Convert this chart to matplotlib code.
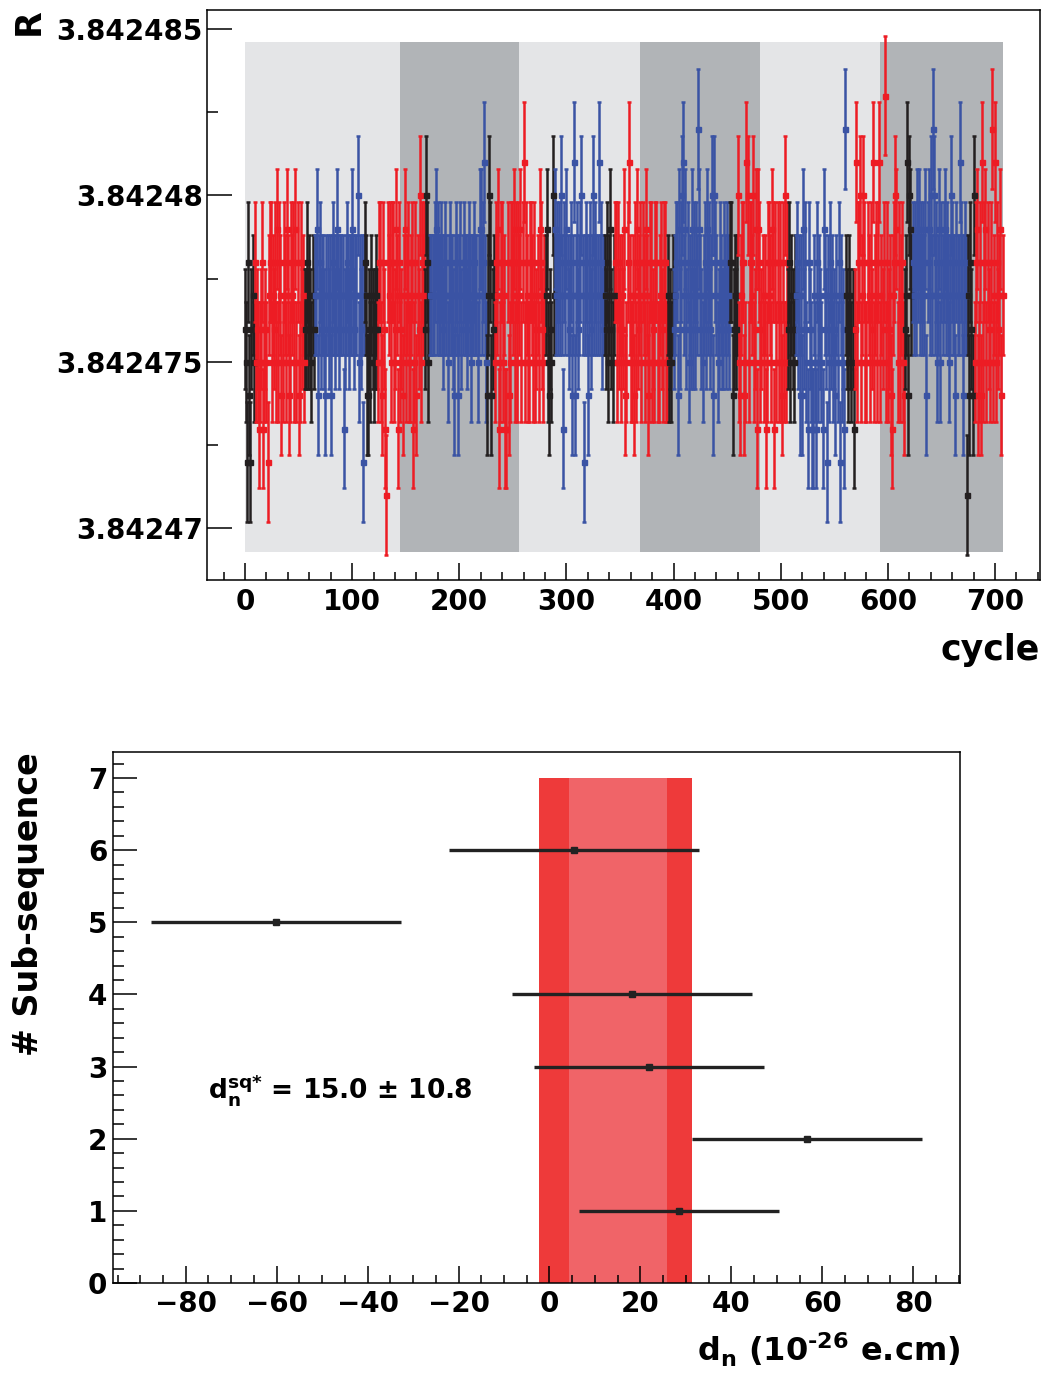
import numpy as np
import matplotlib
matplotlib.use('Agg')
import matplotlib.pyplot as plt
from matplotlib.ticker import FixedLocator, MultipleLocator

plt.rcParams['font.family'] = 'DejaVu Sans'
plt.rcParams['font.weight'] = 'bold'
plt.rcParams['mathtext.fontset'] = 'dejavusans'
plt.rcParams['mathtext.default'] = 'bf'

# ------------------------------------------------------------
# Top panel : R ratio per cycle
# values are quantised levels, one hex char per cycle,
# R = R0 + (int(c,16) - 4) * R_step
# ------------------------------------------------------------
R0 = 3.842475
R_step = 1e-6
R_err = 1.8e-6

seg_start = [0, 9, 56, 65, 112, 124, 168, 173, 226, 233, 281, 289, 336,
             345, 395, 400, 453, 460, 507, 514, 561, 569, 616, 623, 674, 681]
seg_color = ['k', 'r', 'k', 'b', 'k', 'r', 'k', 'b', 'k', 'r', 'k', 'b', 'k',
             'r', 'k', 'b', 'k', 'r', 'k', 'b', 'k', 'r', 'k', 'b', 'k', 'r']
seg_levels = [
    "541731564",
    "7454245724" "5416774657" "4847634764" "8634767484" "7347564",
    "557565465",
    "6683675665" "3665636765" "6865666256" "7656686566" "9465616",
    "763354654565",
    "4774375207" "6747745862" "7453684674" "4672473659" "4767",
    "59746",
    "6666786766" "7656764676" "6536763675" "6766567646" "6766468867" "a64",
    "3697356",
    "4768247746" "2273477684" "7476847a47" "6447764745" "6487546",
    "68435496",
    "8676769627" "68656736a3" "6756796167" "6367569676" "6a67566",
    "657468546",
    "7747564658" "347a644637" "4856747648" "6347745477" "4467547744",
    "64546",
    "567738579a" "6857465857" "576b865467" "5867569397" "6457655765" "765",
    "7735656",
    "94367734a9" "4776945828" "7456462477" "6487274747" "4374947",
    "5746546",
    "6756363857" "4275422642" "7465428651" "6475645364" "716452b",
    "65465452",
    "5a47794697" "4476475a46" "747a4657c4" "7456326798" "4746743",
    "56a3986",
    "7676878676" "768378696b" "9674684767" "8676469766" "3766a76367" "6",
    "0637539",
    "4783473a47" "847547b46a" "4756836",
]

block_edges = [0, 145, 256, 369, 481, 593, 707]
block_shade = ['#E4E5E7', '#B1B4B7', '#E4E5E7', '#B1B4B7', '#E4E5E7', '#B1B4B7']

colors = {'k': '#231F20', 'r': '#ED1C24', 'b': '#3A53A4'}

# ------------------------------------------------------------
# Bottom panel : d_n per sub-sequence
# ------------------------------------------------------------
sub = [1, 2, 3, 4, 5, 6]
dn = [28.5, 56.7, 21.8, 18.2, -60.2, 5.3]
dn_err = [21.9, 25.3, 25.3, 26.4, 27.5, 27.5]
dn_mean = 15.0
dn_mean_err = 10.8
band_outer = [-2.4, 31.4]

fig = plt.figure(figsize=(10.47, 13.74), dpi=100)

# ---------------- top ----------------
ax = fig.add_axes([207/1047, 1-580/1374, 833/1047, 570/1374])
for i in range(len(block_shade)):
    ax.fill_between([block_edges[i], block_edges[i+1]], 3.8424693, 3.8424846,
                    color=block_shade[i], lw=0, zorder=0)

for s0, c, lev in zip(seg_start, seg_color, seg_levels):
    x = s0 + np.arange(len(lev))
    y = R0 + (np.array([int(ch, 16) for ch in lev]) - 4) * R_step
    ax.errorbar(x, y, yerr=R_err, fmt='s', ms=3.6, color=colors[c],
                elinewidth=1.8, capsize=1.4, capthick=1.8, zorder=2)

ax.set_xlim(-35.5, 742)
ax.set_ylim(3.84246845, 3.84248557)
ax.set_yticks([3.84247, 3.842475, 3.84248, 3.842485])
ax.set_yticklabels(['3.84247', '3.842475', '3.84248', '3.842485'])
ax.yaxis.set_minor_locator(FixedLocator([3.8424725, 3.8424775, 3.8424825]))
ax.set_xticks(range(0, 701, 100))
ax.xaxis.set_minor_locator(MultipleLocator(20))
ax.tick_params(axis='both', which='both', direction='in', labelsize=20, width=1.1)
ax.tick_params(axis='y', which='major', length=18, pad=3)
ax.tick_params(axis='y', which='minor', length=8)
ax.tick_params(axis='x', which='major', length=12, pad=6)
ax.tick_params(axis='x', which='minor', length=6)
for sp in ax.spines.values():
    sp.set_linewidth(1.1)

fig.text(12/1047, 1-8/1374, 'R', rotation=90, ha='left', va='top', fontsize=25)
fig.text(1040/1047, 1-650/1374, 'cycle', ha='right', va='center', fontsize=25)

# ---------------- bottom ----------------
ax2 = fig.add_axes([113/1047, 1-1283/1374, 847/1047, 531/1374])
ax2.fill_betweenx([0, 7], band_outer[0], band_outer[1], color='#EE3A3A', lw=0, zorder=0)
ax2.fill_betweenx([0, 7], dn_mean - dn_mean_err, dn_mean + dn_mean_err,
                  color='#F06468', lw=0, zorder=1)
ax2.errorbar(dn, sub, xerr=dn_err, fmt='s', ms=5, color='#222222',
             elinewidth=2.4, capsize=0, zorder=3)

ax2.set_xlim(-96, 90.3)
ax2.set_ylim(0, 7.36)
ax2.set_xticks(range(-80, 81, 20))
ax2.set_xticklabels(['\u221280', '\u221260', '\u221240', '\u221220', '0', '20', '40', '60', '80'])
ax2.xaxis.set_minor_locator(MultipleLocator(5))
ax2.set_yticks(range(0, 8))
ax2.yaxis.set_minor_locator(MultipleLocator(0.2))
ax2.tick_params(axis='both', which='both', direction='in', labelsize=20, width=1.1)
ax2.tick_params(axis='y', which='major', length=17, pad=4)
ax2.tick_params(axis='y', which='minor', length=8)
ax2.tick_params(axis='x', which='major', length=12, pad=5)
ax2.tick_params(axis='x', which='minor', length=6)
for sp in ax2.spines.values():
    sp.set_linewidth(1.1)

ax2.text(-75.2, 2.68, r'$d_n^{sq{*}}$ = 15.0 $\mathregular{\pm}$ 10.8', ha='left',
         va='center', fontsize=19)

fig.text(12/1047, 1-752/1374, '# Sub-sequence', rotation=90, ha='left', va='top', fontsize=24)
fig.text(960/1047, 1-1350/1374, r'$d_n$ (10$^{\text{-26}}$ e.cm)', ha='right',
         va='center', fontsize=23)

fig.savefig('out.png', dpi=100)
